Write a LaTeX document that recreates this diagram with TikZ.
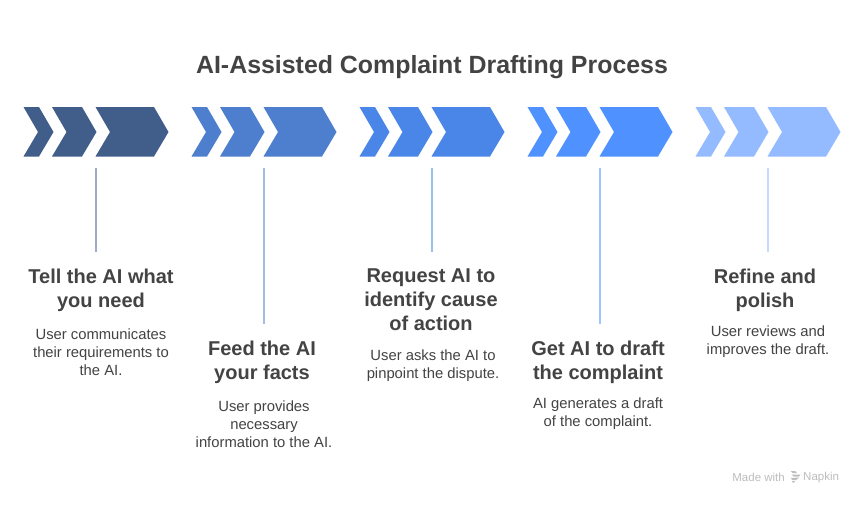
\documentclass[tikz,border=0pt]{standalone}
\usepackage{fontspec}
\setmainfont{Liberation Sans}
\definecolor{cA}{HTML}{415D8A}
\definecolor{cB}{HTML}{4E7FCE}
\definecolor{cC}{HTML}{4A86E8}
\definecolor{cD}{HTML}{4E91FF}
\definecolor{cE}{HTML}{94BBFF}
\definecolor{lA}{HTML}{9CADC6}
\definecolor{lB}{HTML}{A0BCE6}
\definecolor{lC}{HTML}{9DC0F3}
\definecolor{lD}{HTML}{A0C4FF}
\definecolor{lE}{HTML}{C6DAFF}
\definecolor{ink}{HTML}{434343}
\definecolor{wmgray}{HTML}{BDBDBD}
\tikzset{
  x=1pt,y=-1pt,
  titletext/.style={font=\bfseries\fontsize{24.9}{28}\selectfont,text=ink,inner sep=0pt},
  headtext/.style={font=\bfseries\fontsize{20}{24}\selectfont,text=ink,inner sep=0pt,align=center,anchor=north},
  bodytext/.style={font=\fontsize{14.8}{18}\selectfont,text=ink,inner sep=0pt,align=center,anchor=north},
  marktext/.style={font=\fontsize{11.5}{14}\selectfont,text=wmgray,inner sep=0pt},
  stem/.style={line width=1.5pt},
}
% #1 x offset, #2 colour
\newcommand{\chevrons}[2]{%
  \fill[#2] (#1+23.5,107) -- (#1+39,107) -- (#1+53.5,132) -- (#1+39,156.5) -- (#1+23.5,156.5) -- (#1+38,132) -- cycle;
  \fill[#2] (#1+52,107) -- (#1+82,107) -- (#1+96.5,132) -- (#1+82,156.5) -- (#1+52,156.5) -- (#1+66.5,132) -- cycle;
  \fill[#2] (#1+95.5,107) -- (#1+154,107) -- (#1+168.5,132) -- (#1+154,156.5) -- (#1+95.5,156.5) -- (#1+110,132) -- cycle;
}
\begin{document}
\begin{tikzpicture}
\useasboundingbox (0,0) rectangle (864,504);
\fill[white] (0,0) rectangle (864,504);
\node[titletext] (title) at (432,67) {AI-Assisted Complaint Drafting Process};

\chevrons{0}{cA}
\chevrons{168}{cB}
\chevrons{336}{cC}
\chevrons{504}{cD}
\chevrons{672}{cE}

\coordinate (s1a) at (96,168);  \coordinate (s1b) at (96,252);
\coordinate (s2a) at (264,168); \coordinate (s2b) at (264,324);
\coordinate (s3a) at (432,168); \coordinate (s3b) at (432,252);
\coordinate (s4a) at (600,168); \coordinate (s4b) at (600,324);
\coordinate (s5a) at (768,168); \coordinate (s5b) at (768,252);
\draw[stem,lA] (s1a) -- (s1b);
\draw[stem,lB] (s2a) -- (s2b);
\draw[stem,lC] (s3a) -- (s3b);
\draw[stem,lD] (s4a) -- (s4b);
\draw[stem,lE] (s5a) -- (s5b);

\node[headtext] (h1) at (101,269) {Tell the AI what\\you need};
\node[bodytext] (b1) at (101,329) {User communicates\\their requirements to\\the AI.};
\node[headtext] (h2) at (262,341) {Feed the AI\\your facts};
\node[bodytext] (b2) at (264,401) {User provides\\necessary\\information to the AI.};
\node[headtext] (h3) at (431,269) {Request AI to\\identify cause\\of action};
\node[bodytext] (b3) at (433,350) {User asks the AI to\\pinpoint the dispute.};
\node[headtext] (h4) at (598,341) {Get AI to draft\\the complaint};
\node[bodytext] (b4) at (598,398) {AI generates a draft\\of the complaint.};
\node[headtext] (h5) at (765,269) {Refine and\\polish};
\node[bodytext] (b5) at (768,326) {User reviews and\\improves the draft.};

\node[marktext,anchor=east] (m1) at (785,477) {Made with};
\node[marktext,anchor=west] (m2) at (803,478) {Napkin};
\fill[wmgray] (790.5,471) -- (795,471) -- (797,473) -- (792.5,473) -- cycle;
\fill[wmgray] (791.5,474.5) -- (800.5,474.5) -- (799,476.5) -- (793.5,476.5) -- cycle;
\fill[wmgray] (791,478) -- (799.5,477.5) -- (796,480) -- (792,480) -- cycle;
\fill[wmgray] (792,481) -- (795.5,481) -- (793,483) -- cycle;
\end{tikzpicture}
\end{document}
